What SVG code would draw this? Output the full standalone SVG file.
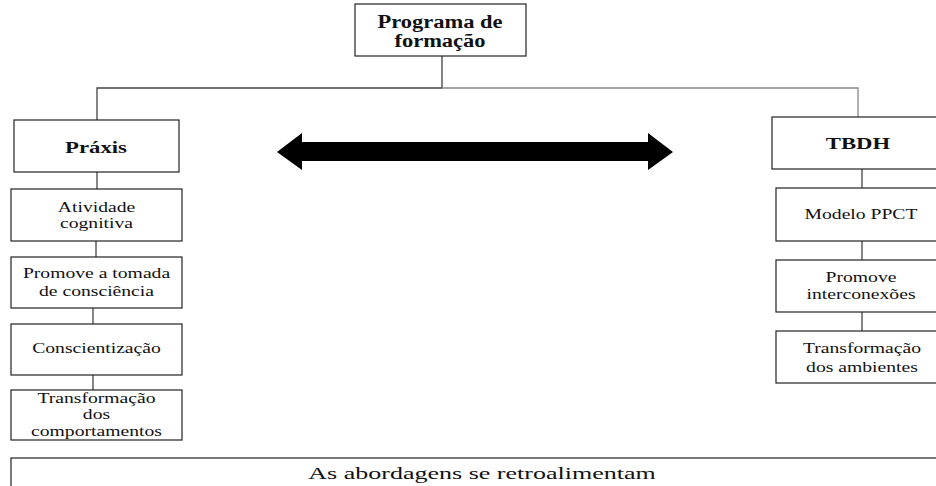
<svg xmlns="http://www.w3.org/2000/svg" width="936" height="486" viewBox="0 0 936 486">
<style>
.box{fill:#fff;stroke:#222;stroke-width:1.2}
text{font-family:'Liberation Serif','DejaVu Serif',serif;font-size:15px;fill:#111;text-anchor:middle}
.b{font-weight:bold;font-size:17.5px}
.p{font-weight:bold;font-size:18px}
.ln{fill:none;stroke:#444;stroke-width:1.3}
</style>
<rect width="936" height="486" fill="#fff"/>
<g id="connectors">
<polyline class="ln" points="442,56 442,88 97,88 97,120"/>
<polyline class="ln" points="442,88 858,88 858,117" style="stroke:#888"/>
<line class="ln" x1="97" y1="172" x2="97" y2="189"/>
<line class="ln" x1="96" y1="241" x2="96" y2="257"/>
<line class="ln" x1="93" y1="308" x2="93" y2="324"/>
<line class="ln" x1="93" y1="375" x2="93" y2="390"/>
<line class="ln" x1="862" y1="169" x2="862" y2="188"/>
<line class="ln" x1="862" y1="241" x2="862" y2="260"/>
<line class="ln" x1="862" y1="312" x2="862" y2="331"/>
<polygon points="277,152 302,133 302,142 648,142 648,133 673,152 648,170 648,161 302,161 302,170" fill="#000"/>
</g>
<g id="programa">
<rect class="box" x="355" y="4" width="171" height="52"/>
<text class="p" transform="matrix(1.25 0 0 1 440 27.5)">Programa de</text>
<text class="p" transform="matrix(1.25 0 0 1 440 46.5)">formação</text>
</g>
<g id="praxis">
<rect class="box" x="14" y="120" width="165" height="52"/>
<text class="b" transform="matrix(1.3 0 0 1 96 153)">Práxis</text>
</g>
<g id="atividade">
<rect class="box" x="11" y="189" width="171" height="52"/>
<text transform="matrix(1.31 0 0 1 96.5 212)">Atividade</text>
<text transform="matrix(1.31 0 0 1 96.5 228)">cognitiva</text>
</g>
<g id="promove">
<rect class="box" x="11" y="257" width="171" height="51"/>
<text transform="matrix(1.31 0 0 1 96.5 278)">Promove a tomada</text>
<text transform="matrix(1.31 0 0 1 96.5 296)">de consciência</text>
</g>
<g id="conscientizacao">
<rect class="box" x="11" y="324" width="171" height="51"/>
<text transform="matrix(1.31 0 0 1 96.5 353)">Conscientização</text>
</g>
<g id="transformacao-comp">
<rect class="box" x="11" y="390" width="171" height="50"/>
<text transform="matrix(1.31 0 0 1 96.5 403)">Transformação</text>
<text transform="matrix(1.31 0 0 1 96.5 419)">dos</text>
<text transform="matrix(1.31 0 0 1 96.5 436)">comportamentos</text>
</g>
<g id="tbdh">
<rect class="box" x="772" y="117" width="170" height="52"/>
<text class="b" transform="matrix(1.3 0 0 1 858 149)">TBDH</text>
</g>
<g id="ppct">
<rect class="box" x="776" y="188" width="170" height="53"/>
<text transform="matrix(1.31 0 0 1 861 219)">Modelo PPCT</text>
</g>
<g id="interconexoes">
<rect class="box" x="776" y="260" width="170" height="52"/>
<text transform="matrix(1.31 0 0 1 861 281.5)">Promove</text>
<text transform="matrix(1.31 0 0 1 861 299)">interconexões</text>
</g>
<g id="ambientes">
<rect class="box" x="776" y="331" width="170" height="52"/>
<text transform="matrix(1.31 0 0 1 862 353)">Transformação</text>
<text transform="matrix(1.31 0 0 1 862 371.5)">dos ambientes</text>
</g>
<g id="retroalimentam">
<rect class="box" x="11" y="458" width="935" height="40"/>
<text transform="matrix(1.53 0 0 1 482 479)" style="font-size:17px">As abordagens se retroalimentam</text>
</g>
</svg>
